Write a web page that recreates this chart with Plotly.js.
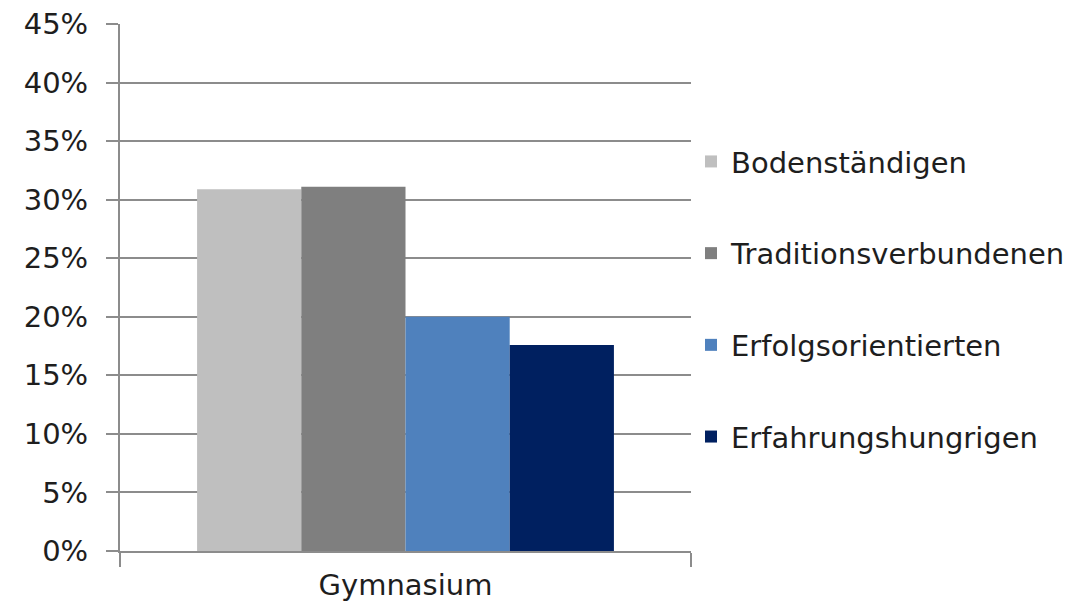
<!DOCTYPE html>
<html>
<head>
<meta charset="utf-8">
<script src="https://cdn.plot.ly/plotly-3.0.1.min.js"></script>
<style>
    html, body { margin: 0; padding: 0; background: #fff; }
    #chart { width: 1092px; height: 607px; }
</style>
</head>
<body>
<div id="chart"></div>
<script>
    // Data (percent)
    var categories = ['Gymnasium'];
    var seriesNames = ['Bodenständigen', 'Traditionsverbundenen', 'Erfolgsorientierten', 'Erfahrungshungrigen'];
    var seriesValues = [30.9, 31.1, 20.0, 17.6];
    var seriesColors = ['#bfbfbf', '#7f7f7f', '#4f81bd', '#002060'];
    var yTicks = [0, 5, 10, 15, 20, 25, 30, 35, 40, 45];

    var axisGrey = '#8c8c8c';
    var textColor = '#1e1e1e';
    var fontFamily = '"DejaVu Sans", "Liberation Sans", Arial, sans-serif';

    var traces = seriesNames.map(function(name, i) {
        return {
            type: 'bar',
            name: name,
            x: categories,
            y: [seriesValues[i]],
            legendgroup: 'g' + i,
            marker: { color: seriesColors[i], line: { width: 0 } },
            hoverinfo: 'skip'
        };
    });

    var layout = {
        width: 1092,
        height: 607,
        margin: { l: 119.5, r: 401, t: 24, b: 56 },
        paper_bgcolor: '#ffffff',
        plot_bgcolor: '#ffffff',
        font: { family: fontFamily, size: 29, color: textColor },
        barmode: 'group',
        bargap: 0.27,
        bargroupgap: 0,
        showlegend: true,
        legend: {
            x: 1.0,
            xanchor: 'left',
            y: 0.478,
            yanchor: 'middle',
            traceorder: 'grouped',
            tracegroupgap: 51,
            font: { family: fontFamily, size: 29, color: textColor },
            bgcolor: 'rgba(0,0,0,0)'
        },
        xaxis: {
            type: 'category',
            showline: true,
            linecolor: axisGrey,
            linewidth: 2,
            ticks: 'outside',
            tickson: 'boundaries',
            ticklen: 14,
            tickwidth: 2,
            tickcolor: axisGrey,
            ticklabelstandoff: 7,
            showgrid: false,
            tickfont: { family: fontFamily, size: 29, color: textColor }
        },
        yaxis: {
            range: [0, 45],
            tickmode: 'array',
            tickvals: yTicks,
            ticktext: yTicks.map(function(v) { return v + '%'; }),
            showline: true,
            linecolor: axisGrey,
            linewidth: 2,
            ticks: 'outside',
            ticklen: 12,
            tickwidth: 2,
            tickcolor: axisGrey,
            ticklabelstandoff: 12,
            showgrid: true,
            gridcolor: axisGrey,
            gridwidth: 2,
            zeroline: false,
            tickfont: { family: fontFamily, size: 29, color: textColor }
        }
    };

    Plotly.newPlot('chart', traces, layout, { displayModeBar: false, staticPlot: true });
</script>
</body>
</html>
